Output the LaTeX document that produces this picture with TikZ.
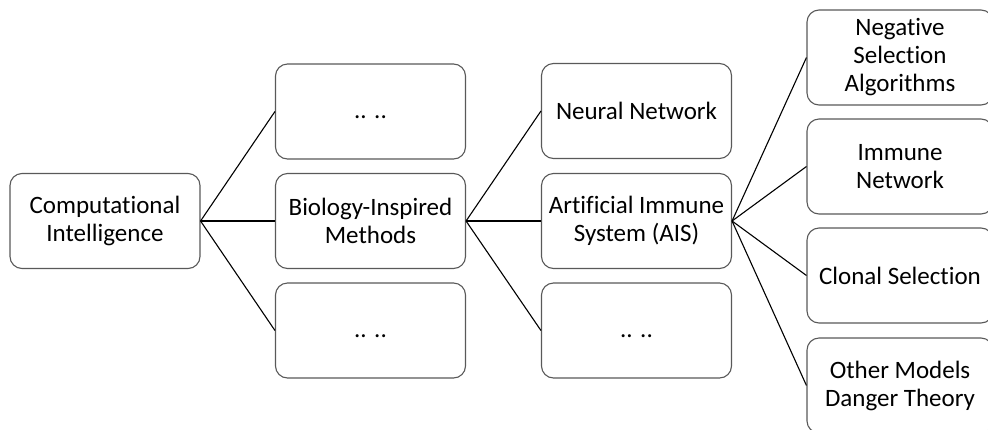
\documentclass[tikz,border=0pt]{standalone}
\usepackage{fontspec}
\setmainfont{Carlito}[Ligatures={NoCommon,NoRare,NoContextual}]
% keep "t" and "i" apart so they are not joined
\newcommand\ti{t\kern0pt i}
% placeholder text, set on a baseline a little below the box centre
\newcommand\placeholder{\raisebox{-6.5pt}[0pt][0pt]{.. ..}}
\begin{document}
\begin{tikzpicture}[x=1pt,y=-1pt,
  frame/.style={draw=black!65, line width=1.1pt, rounded corners=12pt,
    fill=white, minimum width=190pt, minimum height=95pt, inner sep=2pt,
    font=\fontsize{25}{28}\selectfont},
  box/.style={frame, align=center},
  rbox/.style={box, minimum width=186pt},
  dots/.style={frame},
  link/.style={draw=black, line width=1.1pt}]
\useasboundingbox (0,0) rectangle (988,429);
\clip (0,0) rectangle (988,429);

% level 0
\node[box] (ci) at (105,221) {Computa\ti onal\\Intelligence};

% level 1
\node[dots] (m1) at (370.5,111.5) {\placeholder};
\node[box] (bio) at (370.5,221) {Biology-Inspired\\Methods};
\node[dots] (m3) at (370.5,330.5) {\placeholder};

% level 2
\node[box] (nn) at (636.5,111) {Neural Network};
\node[box] (ais) at (636.5,221) {Ar\ti ficial Immune\\System (AIS)};
\node[dots] (n3) at (636.5,330.5) {\placeholder};

% level 3
\node[rbox] (nsa) at (900,57.5) {Nega\ti ve\\Selection\\Algorithms};
\node[rbox] (inet) at (900,166.5) {Immune\\Network};
\node[rbox] (clon) at (900,275.5) {Clonal Selection};
\node[rbox] (other) at (900,385.5) {Other Models\\Danger Theory};

% connectors
\foreach \t in {m1,bio,m3} \draw[link] (ci.east) -- (\t.west);
\foreach \t in {nn,ais,n3} \draw[link] (bio.east) -- (\t.west);
\foreach \t in {nsa,inet,clon,other} \draw[link] (ais.east) -- (\t.west);
\end{tikzpicture}
\end{document}
